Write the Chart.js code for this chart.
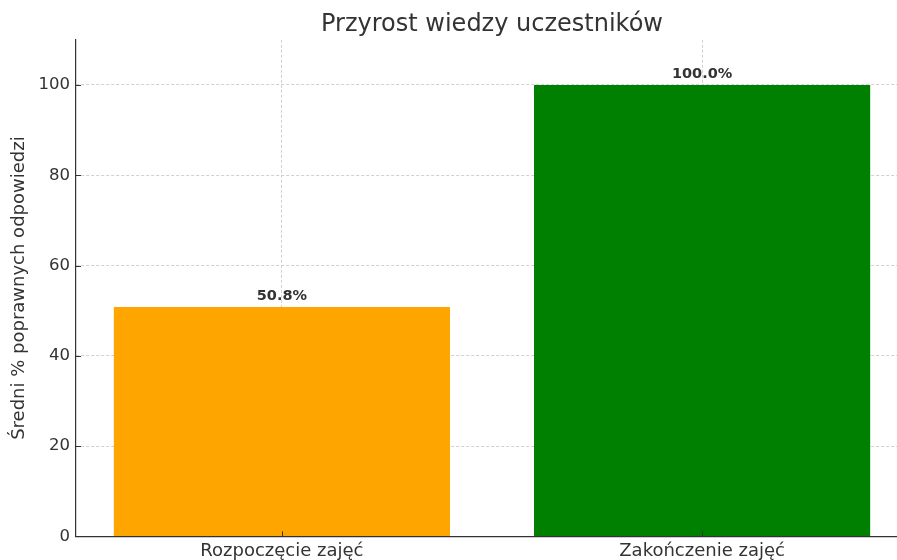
<!DOCTYPE html>
<html>
<head>
<meta charset="utf-8">
<script src="https://cdn.jsdelivr.net/npm/chart.js@4"></script>
<style>
  body { margin: 0; background: #fff; }
  #wrap { width: 897px; height: 560px; overflow: hidden; }
  #inner { width: 908px; height: 566px; }
</style>
</head>
<body>
<div id="wrap"><div id="inner"><canvas id="chart"></canvas></div></div>
<script>
// Data
var categories = ['Rozpoczęcie zajęć', 'Zakończenie zajęć'];
var values = [50.8, 100.0];
var barColors = ['#FFA500', '#008000'];
var yTicks = [0, 20, 40, 60, 80, 100];

var FONT = "'DejaVu Sans', sans-serif";
var TEXT = '#333333';

// Bar value labels plus the small inward tick marks
var extras = {
  id: 'extras',
  afterDraw: function(chart) {
    var ctx = chart.ctx;
    var x = chart.scales.x;
    var y = chart.scales.y;
    ctx.save();
    ctx.strokeStyle = TEXT;
    ctx.lineWidth = 1;
    yTicks.forEach(function(v) {
      var py = Math.round(y.getPixelForValue(v)) + 0.5;
      ctx.beginPath();
      ctx.moveTo(x.left, py);
      ctx.lineTo(x.left + 5, py);
      ctx.stroke();
    });
    categories.forEach(function(c, i) {
      var px = Math.round(x.getPixelForValue(i)) + 0.5;
      ctx.beginPath();
      ctx.moveTo(px, y.bottom);
      ctx.lineTo(px, y.bottom - 5);
      ctx.stroke();
    });
    var meta = chart.getDatasetMeta(0);
    ctx.fillStyle = TEXT;
    ctx.font = 'bold 14.5px ' + FONT;
    ctx.textAlign = 'center';
    ctx.textBaseline = 'alphabetic';
    meta.data.forEach(function(bar, i) {
      ctx.fillText(values[i].toFixed(1) + '%', bar.x, bar.y - 7);
    });
    ctx.restore();
  }
};

var points = values.map(function(v, i) { return { x: i, y: v }; });

var ctx = document.getElementById('chart');
var myChart = new Chart(ctx, {
  type: 'bar',
  data: {
    datasets: [{
      data: points,
      backgroundColor: barColors,
      borderWidth: 0,
      categoryPercentage: 1.0,
      barPercentage: 0.8
    }]
  },
  options: {
    responsive: true,
    maintainAspectRatio: false,
    animation: false,
    layout: { padding: 0 },
    plugins: {
      legend: { display: false },
      tooltip: { enabled: false },
      title: {
        display: true,
        fullSize: false,
        text: 'Przyrost wiedzy uczestników',
        color: TEXT,
        font: { family: FONT, size: 24, weight: 'normal' },
        padding: { top: 10, bottom: 1 }
      }
    },
    scales: {
      x: {
        type: 'linear',
        z: 1,
        offset: false,
        min: -0.49,
        max: 1.49,
        afterBuildTicks: function(scale) {
          scale.ticks = categories.map(function(c, i) { return { value: i }; });
        },
        grid: { color: '#d0d0d0', drawTicks: false, offset: false },
        border: { display: true, color: TEXT, width: 1.2, dash: [3, 2] },
        ticks: {
          color: TEXT,
          font: { family: FONT, size: 18 },
          padding: 4,
          maxRotation: 0,
          autoSkip: false,
          callback: function(v) { return categories[v]; }
        }
      },
      y: {
        z: 1,
        min: 0,
        max: 110,
        afterBuildTicks: function(scale) {
          scale.ticks = yTicks.map(function(v) { return { value: v }; });
        },
        afterFit: function(scale) { scale.width = 76; },
        grid: { color: '#d0d0d0', drawTicks: false },
        border: { display: true, color: TEXT, width: 1.2, dash: [3, 2] },
        ticks: { color: TEXT, font: { family: FONT, size: 16.5 }, padding: 6 },
        title: {
          display: true,
          text: 'Średni % poprawnych odpowiedzi',
          color: TEXT,
          font: { family: FONT, size: 18 },
          padding: { top: 9, bottom: 0 }
        }
      }
    }
  },
  plugins: [extras]
});
</script>
</body>
</html>
